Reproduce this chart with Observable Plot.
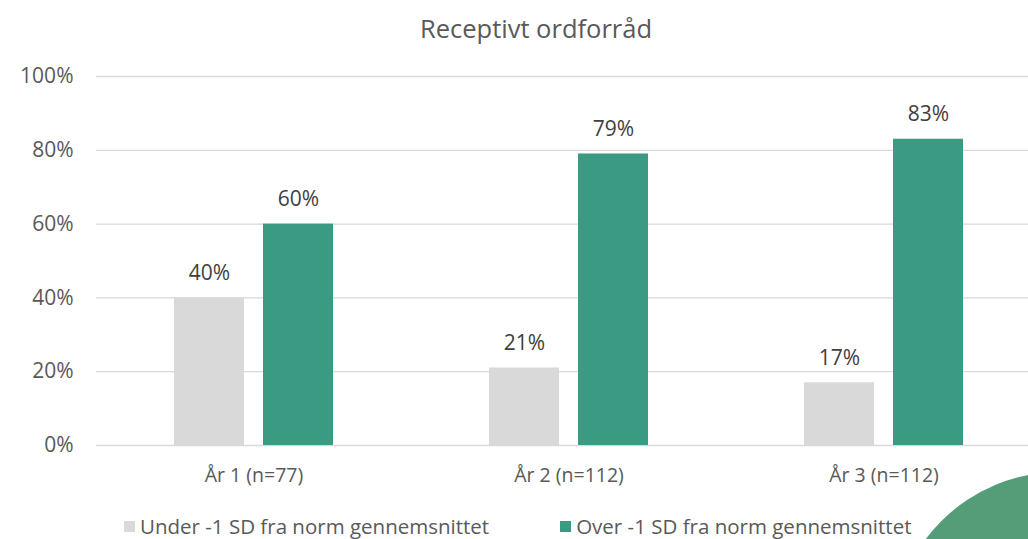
<!DOCTYPE html>
<html>
<head>
<meta charset="utf-8">
<script src="https://cdn.jsdelivr.net/npm/d3@7"></script>
<script src="https://cdn.jsdelivr.net/npm/@observablehq/plot@0.6"></script>
<style>
  html, body { margin: 0; padding: 0; background: #fff; }
  #wrap { position: relative; width: 1028px; height: 539px; overflow: hidden; font-family: "Open Sans", Lato, sans-serif; }
  #title { position: absolute; top: 10px; left: 0; width: 1072px; text-align: center; font-size: 25.5px; color: #595959; line-height: 36px; }
  #chart { position: absolute; top: 50px; left: 0; }
  #legend { position: absolute; top: 512px; left: 124px; font-size: 20.5px; color: #595959; display: flex; line-height: 28px; }
  .item { display: flex; align-items: center; }
  .sw { width: 11px; height: 11px; margin-right: 5px; }
  #deco { position: absolute; left: 0; top: 0; pointer-events: none; }
</style>
</head>
<body>
<div id="wrap">
  <div id="title">Receptivt ordforråd</div>
  <div id="chart"></div>
  <div id="legend"></div>
</div>
<script>
const groups = ["År 1 (n=77)", "År 2 (n=112)", "År 3 (n=112)"];
const seriesNames = ["Under -1 SD fra norm gennemsnittet", "Over -1 SD fra norm gennemsnittet"];
const underValues = [0.40, 0.21, 0.17];
const overValues = [0.60, 0.79, 0.83];
const yTicks = [0, 0.2, 0.4, 0.6, 0.8, 1.0];
const colors = ["#d9d9d9", "#3a9a82"];

const data = [];
groups.forEach((g, i) => {
  data.push({group: g, series: seriesNames[0], value: underValues[i]});
  data.push({group: g, series: seriesNames[1], value: overValues[i]});
});

const chart = Plot.plot({
  width: 1028,
  height: 440,
  marginTop: 26,
  marginBottom: 45,
  marginLeft: 95,
  marginRight: 0,
  style: {fontFamily: "'Open Sans', Lato, sans-serif", fontSize: "19px", color: "#595959", background: "transparent", overflow: "visible"},
  fx: {domain: groups, range: [94.75, 1041.25], padding: 0, label: null},
  x: {domain: seriesNames, paddingInner: 0.211, paddingOuter: 0.858, align: 0.5, axis: null},
  y: {domain: [0, 1], label: null},
  color: {domain: seriesNames, range: colors},
  marks: [
    Plot.ruleY(yTicks, {stroke: "#d9d9d9", strokeWidth: 1.3}),
    Plot.axisY({ticks: yTicks, tickFormat: d3.format(".0%"), tickSize: 0, tickPadding: 23, label: null, fontSize: 21, fill: "#595959"}),
    Plot.axisFx({anchor: "bottom", tickSize: 0, tickPadding: 23, label: null, fontSize: 19.5, fill: "#595959"}),
    Plot.barY(data, {fx: "group", x: "series", y: "value", fill: "series"}),
    Plot.text(data, {fx: "group", x: "series", y: "value", text: d => d3.format(".0%")(d.value), dy: -25, fill: "#404040", fontSize: 21})
  ]
});
document.getElementById("chart").appendChild(chart);

const legend = document.getElementById("legend");
seriesNames.forEach((s, i) => {
  const it = document.createElement("div");
  it.className = "item";
  it.style.marginRight = i === 0 ? "71px" : "0";
  const sw = document.createElement("div");
  sw.className = "sw";
  sw.style.background = colors[i];
  const tx = document.createElement("span");
  tx.textContent = s;
  it.appendChild(sw); it.appendChild(tx);
  legend.appendChild(it);
});

// decorative corner circle
const ns = "http://www.w3.org/2000/svg";
const deco = document.createElementNS(ns, "svg");
deco.setAttribute("id", "deco");
deco.setAttribute("width", 1028);
deco.setAttribute("height", 539);
const c = document.createElementNS(ns, "circle");
c.setAttribute("cx", 1060); c.setAttribute("cy", 640); c.setAttribute("r", 168);
c.setAttribute("fill", "#559c78");
deco.appendChild(c);
document.getElementById("wrap").appendChild(deco);
</script>
</body>
</html>
